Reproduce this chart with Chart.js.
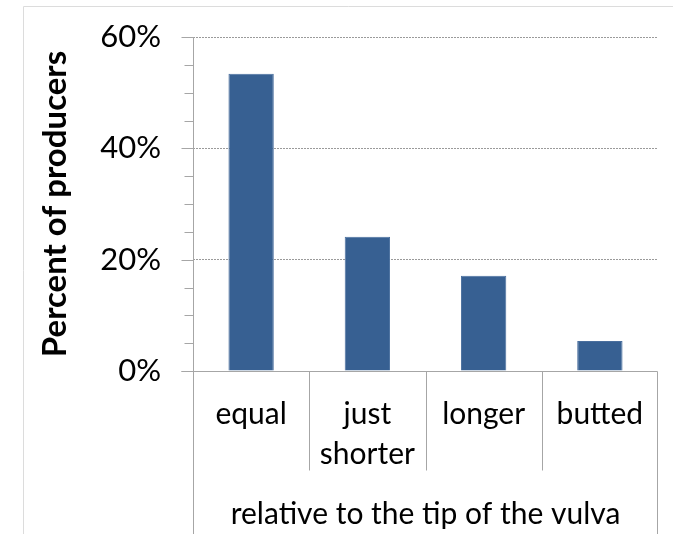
<!DOCTYPE html>
<html>
<head>
<meta charset="utf-8">
<script src="https://cdn.jsdelivr.net/npm/chart.js@4"></script>
<style>
  html, body { margin: 0; padding: 0; background: #fff; }
  #wrap { width: 673px; height: 534px; position: relative; }
</style>
</head>
<body>
<div id="wrap"><canvas id="chart" width="673" height="534"></canvas></div>
<script>
// ── Data ────────────────────────────────────────────────────
const categories = ['equal', ['just', 'shorter'], 'longer', 'butted'];
const percentValues = [53.4, 24.1, 17.1, 5.4];
const yTicks = [0, 20, 40, 60];

const AXIS_GREY = '#a6a6a6';
const FONT = "Lato, 'Open Sans', sans-serif";

// Excel-style decorations: frame, minor ticks, category separators
const excelAxes = {
  id: 'excelAxes',
  beforeDraw(chart) {
    const { ctx } = chart;
    ctx.save();
    ctx.strokeStyle = '#dcdcdc';
    ctx.lineWidth = 1;
    ctx.beginPath();
    ctx.moveTo(23.5, 534);
    ctx.lineTo(23.5, 6.5);
    ctx.lineTo(673, 6.5);
    ctx.stroke();
    ctx.restore();
  },
  afterDraw(chart) {
    const { ctx, chartArea } = chart;
    const x = chart.scales.x;
    const y = chart.scales.y;
    const left = Math.round(chartArea.left) + 0.5;
    const right = Math.round(chartArea.right) - 0.5;
    const bottom = Math.round(y.getPixelForValue(0)) + 0.5;

    ctx.save();
    ctx.strokeStyle = AXIS_GREY;
    ctx.lineWidth = 1;
    ctx.beginPath();

    // y axis line, running down to the bottom of the canvas
    ctx.moveTo(left, Math.round(y.getPixelForValue(60)));
    ctx.lineTo(left, 534);
    // outer right edge of category box
    ctx.moveTo(right, bottom);
    ctx.lineTo(right, 534);
    // x axis line
    ctx.moveTo(left - 12, bottom);
    ctx.lineTo(right, bottom);

    // major and minor ticks on y
    for (let v = 0; v <= 60; v += 5) {
      const py = Math.round(y.getPixelForValue(v)) + 0.5;
      ctx.moveTo(left - (v % 20 === 0 ? 12 : 9), py);
      ctx.lineTo(left, py);
    }

    // category separators
    const step = (x.right - x.left) / categories.length;
    for (let i = 1; i < categories.length; i++) {
      const px = Math.round(x.left + step * i) + 0.5;
      ctx.moveTo(px, bottom);
      ctx.lineTo(px, bottom + 99);
    }
    ctx.stroke();
    ctx.restore();
  }
};

new Chart(document.getElementById('chart'), {
  type: 'bar',
  data: {
    labels: categories,
    datasets: [{
      label: 'Percent of producers',
      data: percentValues,
      backgroundColor: '#376092',
      borderColor: '#4a6f9e',
      borderWidth: 1,
      categoryPercentage: 1,
      barPercentage: 0.39,
    }]
  },
  options: {
    responsive: false,
    animation: false,
    devicePixelRatio: 1,
    layout: { padding: { top: 37, right: 15, bottom: 0, left: 24 } },
    plugins: {
      legend: { display: false },
      tooltip: { enabled: false },
    },
    scales: {
      x: {
        afterFit: (s) => { s.height = 163; s.paddingLeft = 0; s.paddingRight = 0; },
        grid: { display: false, drawTicks: false },
        border: { display: false },
        ticks: {
          color: '#000',
          font: { family: FONT, size: 30, lineHeight: 1.35 },
          padding: 23,
          maxRotation: 0,
          autoSkip: false,
        },
        title: {
          display: true,
          text: 'relative to the tip of the vulva',
          color: '#000',
          font: { family: FONT, size: 30 },
          padding: { top: 0, bottom: 2 },
        },
      },
      y: {
        min: 0,
        max: 60,
        afterFit: (s) => { s.width = 169; s.paddingTop = 0; s.paddingBottom = 0; },
        afterBuildTicks: (s) => { s.ticks = yTicks.map(v => ({ value: v })); },
        grid: {
          color: '#9a9a9a',
          drawTicks: false,
        },
        // in v4 the gridline dash lives under border
        border: { display: false, dash: [2, 1] },
        ticks: {
          color: '#000',
          font: { family: FONT, size: 31 },
          padding: 32,
          callback: (v) => v + '%',
        },
        title: {
          display: true,
          text: 'Percent of producers',
          color: '#000',
          font: { family: FONT, size: 33, weight: 'bold' },
          padding: { top: 12, bottom: 0 },
        },
      },
    },
  },
  plugins: [excelAxes],
});
</script>
</body>
</html>
